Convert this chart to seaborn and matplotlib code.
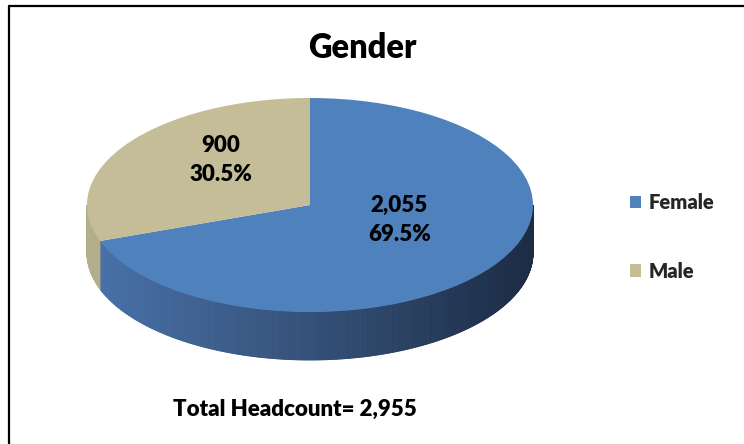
import numpy as np
import matplotlib
matplotlib.use("Agg")
import matplotlib.pyplot as plt
import seaborn as sns
from matplotlib.collections import PolyCollection
from matplotlib.colors import to_rgb
from matplotlib.lines import Line2D

# ---- data ----
categories = ["Female", "Male"]
counts = [2055, 900]
chart_title = "Gender"
total_label = "Total Headcount= 2,955"

# ---- styles ----
top_colors = ["#4f81bd", "#c4bd97"]
side_light = ["#4a73ab", "#b5ae8a"]
side_dark = ["#1c2c44", "#8a8466"]

sns.set_theme(style="white")
plt.rcParams['font.family'] = ['Lato', 'DejaVu Sans']
WEIGHT = "heavy"

W, H = 744, 444
fig = plt.figure(figsize=(W / 100, H / 100), dpi=100)
fig.patch.set_facecolor("white")

# ellipse geometry in pixels
cx, cy, rx, ry = 310, 205, 223, 107
depth = 48 / ry

ax = fig.add_axes([0, 0, 1, 1])
wedges, _ = ax.pie(counts, colors=top_colors, startangle=90, counterclock=False,
                   radius=1, center=(0, 0), wedgeprops=dict(linewidth=0, zorder=2))
ax.set_xlim((0 - cx) / rx, (W - cx) / rx)
ax.set_ylim((cy - H) / ry, cy / ry)
ax.set_aspect('auto')
ax.axis('off')

# ---- side wall (front half) derived from wedge angles ----
polys, cols = [], []
for i, w in enumerate(wedges):
    t1, t2 = w.theta1, w.theta2
    for k in range(-3, 3):
        lo = max(t1, 180 + 360 * k)
        hi = min(t2, 360 + 360 * k)
        if hi <= lo:
            continue
        ts = np.radians(np.linspace(lo, hi, max(int((hi - lo) * 3), 2)))
        for a, b in zip(ts[:-1], ts[1:]):
            xa, ya, xb, yb = np.cos(a), np.sin(a), np.cos(b), np.sin(b)
            polys.append([(xa, ya), (xb, yb), (xb, yb - depth), (xa, ya - depth)])
            f = (np.cos((a + b) / 2) + 1) / 2
            c1, c2 = np.array(to_rgb(side_light[i])), np.array(to_rgb(side_dark[i]))
            cols.append(tuple(c1 + (c2 - c1) * f))
pc = PolyCollection(polys, facecolors=cols, edgecolors=cols, linewidths=0.6, zorder=1)
ax.add_collection(pc)

# ---- labels inside slices ----
total = sum(counts)
for w, v in zip(wedges, counts):
    mid = np.radians((w.theta1 + w.theta2) / 2)
    x = 0.49 * np.cos(mid)
    y = 0.49 * np.sin(mid) + 0.14
    ax.text(x, y, f"{v:,}\n{v / total * 100:.1f}%", ha="center", va="center",
            fontsize=16, fontweight=WEIGHT, color="black", linespacing=1.45, zorder=5)

# ---- title, footer ----
fig.text(362 / W, 1 - 48 / H, chart_title, ha="center", va="center",
         fontsize=23.5, fontweight=WEIGHT, color="black")
fig.text(295 / W, 1 - 409 / H, total_label, ha="center", va="center",
         fontsize=16, fontweight=WEIGHT, color="black")

# ---- legend ----
fig.legend(wedges, categories, loc="center left", bbox_to_anchor=(620 / W, 1 - 237 / H),
           frameon=False, handlelength=0.55, handleheight=0.55, handletextpad=0.35,
           labelspacing=2.45, borderpad=0, prop=dict(size=14.5, weight=WEIGHT))

# ---- border (top and left) ----
fig.add_artist(Line2D([9 / W, 9 / W], [0, 1 - 6 / H], color="black", lw=1.6,
                      transform=fig.transFigure))
fig.add_artist(Line2D([9 / W, 1], [1 - 6 / H, 1 - 6 / H], color="black", lw=1.6,
                      transform=fig.transFigure))

fig.savefig("out.png", dpi=100, facecolor="white")
